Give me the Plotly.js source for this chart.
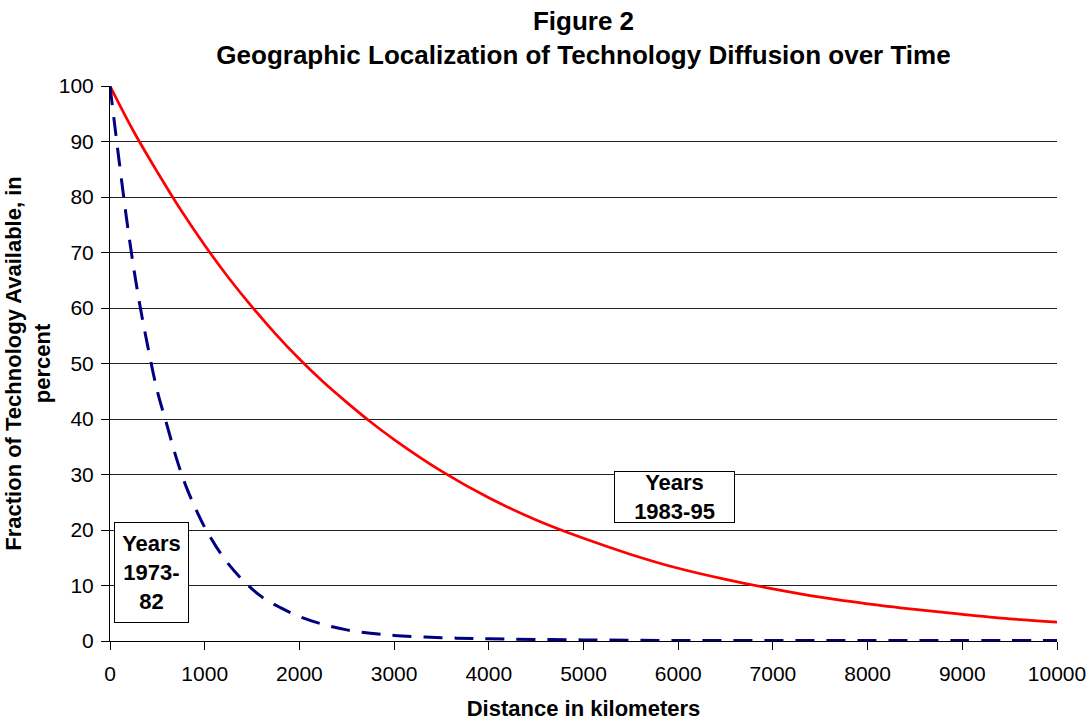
<!DOCTYPE html>
<html>
<head>
<meta charset="utf-8">
<script src="https://cdn.plot.ly/plotly-3.0.1.min.js"></script>
<style>html,body{margin:0;padding:0;background:#fff;}#chart{width:1091px;height:721px;}</style>
</head>
<body>
<div id="chart"></div>
<script>
// Years 1983-95 (red, solid)
const distRecent = [0, 250, 500, 750, 1000, 1250, 1500, 1750, 2000, 2250, 2500, 2750, 3000, 3500, 4000, 4500, 5000, 5500, 6000, 6500, 7000, 7500, 8000, 8500, 9000, 9500, 10000];
const fracRecent = [100, 91.8, 84.5, 77.6, 71.3, 65.5, 60.2, 55.3, 50.8, 46.7, 43, 39.5, 36.3, 30.6, 25.8, 21.8, 18.5, 15.6, 13.1, 11.1, 9.4, 7.9, 6.7, 5.7, 4.8, 4.0, 3.4];
// Years 1973-82 (blue, dashed)
const distEarly = [0, 100, 200, 300, 400, 500, 600, 700, 800, 900, 1000, 1200, 1400, 1600, 1800, 2000, 2250, 2500, 2750, 3000, 3500, 4000, 5000, 6000, 7000, 8000, 9000, 10000];
const fracEarly = [100, 86, 73, 62, 53, 45, 39, 33, 28, 24, 20.5, 15, 11, 8, 6, 4.4, 3, 2, 1.4, 1.0, 0.6, 0.4, 0.2, 0.1, 0.1, 0.1, 0.1, 0.1];

const xTickVals = [0, 1000, 2000, 3000, 4000, 5000, 6000, 7000, 8000, 9000, 10000];
const xTickText = ["0", "1000", "2000", "3000", "4000", "5000", "6000", "7000", "8000", "9000", "10000"];
const yTickVals = [0, 10, 20, 30, 40, 50, 60, 70, 80, 90, 100];

const titleText = "Figure 2<br>Geographic Localization of Technology Diffusion over Time";
const xTitle = "Distance in kilometers";
const yTitle = "Fraction of Technology Available, in<br>percent";
const labelRecent = "Years<br>1983-95";
const labelEarly = "Years<br>1973-<br>82";

const font = "Liberation Sans, Arial, sans-serif";

const traces = [
  {x: distRecent, y: fracRecent, mode: "lines", line: {color: "#ff0000", width: 2.7, shape: "spline"}, showlegend: false, hoverinfo: "skip"},
  {x: distEarly, y: fracEarly, mode: "lines", line: {color: "#000080", width: 3, dash: "19px,12px", shape: "spline"}, showlegend: false, hoverinfo: "skip"}
];

const layout = {
  width: 1091, height: 721,
  paper_bgcolor: "#fff", plot_bgcolor: "#fff",
  margin: {l: 110, r: 34, t: 86, b: 80},
  font: {family: font, size: 21, color: "#000"},
  title: {text: "<b>" + titleText + "</b>", xref: "paper", x: 0.5, xanchor: "center", yref: "container", y: 0.958, yanchor: "top", font: {family: font, size: 26, color: "#000"}},
  xaxis: {
    range: [0, 10000], tickvals: xTickVals, ticktext: xTickText,
    ticks: "outside", ticklen: 8, tickcolor: "#000", showline: true, linecolor: "#000", linewidth: 1,
    showgrid: false, zeroline: false, tickfont: {size: 21}, ticklabelstandoff: 6,
    title: {text: "<b>" + xTitle + "</b>", font: {size: 22}, standoff: 18}
  },
  yaxis: {
    range: [0, 100], tickvals: yTickVals,
    ticks: "outside", ticklen: 8, tickcolor: "#000", showline: true, linecolor: "#000", linewidth: 1,
    showgrid: true, gridcolor: "#222", gridwidth: 1, zeroline: false, tickfont: {size: 21}, ticklabelstandoff: 3,
    title: {text: "<b>" + yTitle + "</b>", font: {size: 22}, standoff: 2}
  },
  annotations: [
    {x: 5966, y: 25.9, xref: "x", yref: "y", text: "<b>" + labelRecent + "</b>", showarrow: false,
     bgcolor: "#fff", bordercolor: "#000", borderwidth: 1, borderpad: 0, width: 119, height: 50, font: {size: 22}},
    {x: 443, y: 12.4, xref: "x", yref: "y", text: "<b>" + labelEarly + "</b>", showarrow: false,
     bgcolor: "#fff", bordercolor: "#000", borderwidth: 1, borderpad: 0, width: 73, height: 99, font: {size: 22}}
  ]
};

Plotly.newPlot("chart", traces, layout, {staticPlot: true, displayModeBar: false});
</script>
</body>
</html>
